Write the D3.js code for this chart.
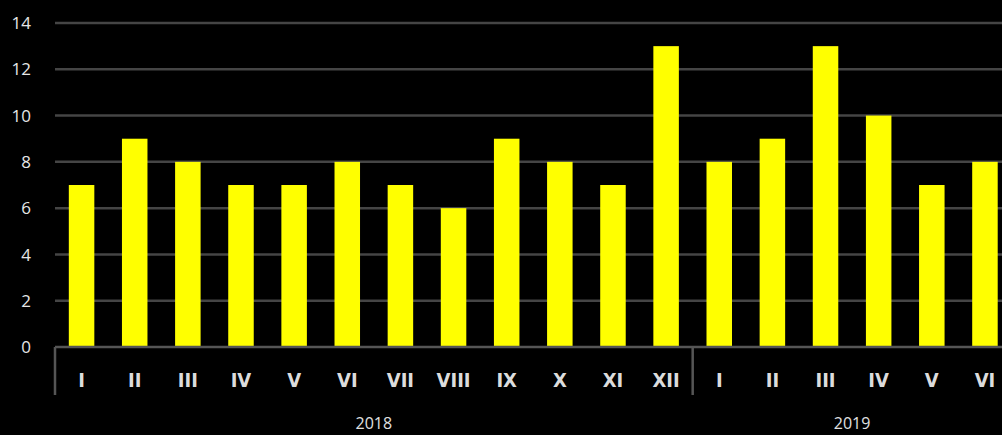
<!DOCTYPE html>
<html><head><meta charset="utf-8">
<script src="https://cdn.jsdelivr.net/npm/d3@7"></script>
<style>html,body{margin:0;padding:0;background:#000;overflow:hidden}</style>
</head><body>
<svg id="c" width="1002" height="435"></svg>
<script>
const months2018 = ["I","II","III","IV","V","VI","VII","VIII","IX","X","XI","XII"];
const values2018 = [7,9,8,7,7,8,7,6,9,8,7,13];
const months2019 = ["I","II","III","IV","V","VI"];
const values2019 = [8,9,13,10,7,8];
const years = ["2018","2019"];
const yTicks = [0,2,4,6,8,10,12,14];

const data = [
  ...months2018.map((m,i)=>({year:"2018",month:m,value:values2018[i],key:"2018-"+i})),
  ...months2019.map((m,i)=>({year:"2019",month:m,value:values2019[i],key:"2019-"+i}))
];

const svg = d3.select("#c");
const left = 55, step = 53.14;
const x = d3.scaleBand().domain(data.map(d=>d.key)).range([left, left+step*data.length]).paddingInner(0.52).paddingOuter(0.26);
const y = d3.scaleLinear().domain([0,14]).range([347,23]);

// gridlines
svg.append("g").selectAll("line").data(yTicks.filter(t=>t>0)).join("line")
  .attr("x1", left).attr("x2", 1002).attr("y1", d=>y(d)).attr("y2", d=>y(d))
  .attr("stroke","#454545").attr("stroke-width",2.5);

// y labels
svg.append("g").selectAll("text").data(yTicks).join("text")
  .attr("x", 31).attr("y", d=>y(d)).attr("dy","0.36em").attr("text-anchor","end")
  .attr("fill","#e6e6e6").attr("font-family","Open Sans, sans-serif").attr("font-size",17)
  .text(d=>d);

// bars
svg.append("g").selectAll("rect").data(data).join("rect")
  .attr("x", d=>x(d.key)).attr("width", x.bandwidth())
  .attr("y", d=>y(d.value)).attr("height", d=>y(0)-y(d.value))
  .attr("fill","#ffff00");

// baseline
svg.append("line").attr("x1",left).attr("x2",1002).attr("y1",y(0)).attr("y2",y(0))
  .attr("stroke","#555").attr("stroke-width",2.5);

// month labels
svg.append("g").selectAll("text").data(data).join("text")
  .attr("x", d=>x(d.key)+x.bandwidth()/2).attr("y", 387).attr("text-anchor","middle")
  .attr("fill","#dcdcdc").attr("font-family","DejaVu Sans Condensed, DejaVu Sans, sans-serif")
  .attr("font-weight","bold").attr("font-size",20)
  .text(d=>d.month);

// group dividers
const divs = [left, left + step*months2018.length];
svg.append("g").selectAll("line").data(divs).join("line")
  .attr("x1", d=>d).attr("x2", d=>d).attr("y1", y(0)).attr("y2", 395)
  .attr("stroke","#555").attr("stroke-width",2.5);

// year labels
const yearCenters = [left + step*months2018.length/2, left + step*months2018.length + step*months2019.length/2];
svg.append("g").selectAll("text").data(years).join("text")
  .attr("x",(d,i)=>yearCenters[i]).attr("y",429).attr("text-anchor","middle")
  .attr("fill","#e0e0e0").attr("font-family","Open Sans, sans-serif").attr("font-size",16)
  .text(d=>d);
</script>
</body></html>
